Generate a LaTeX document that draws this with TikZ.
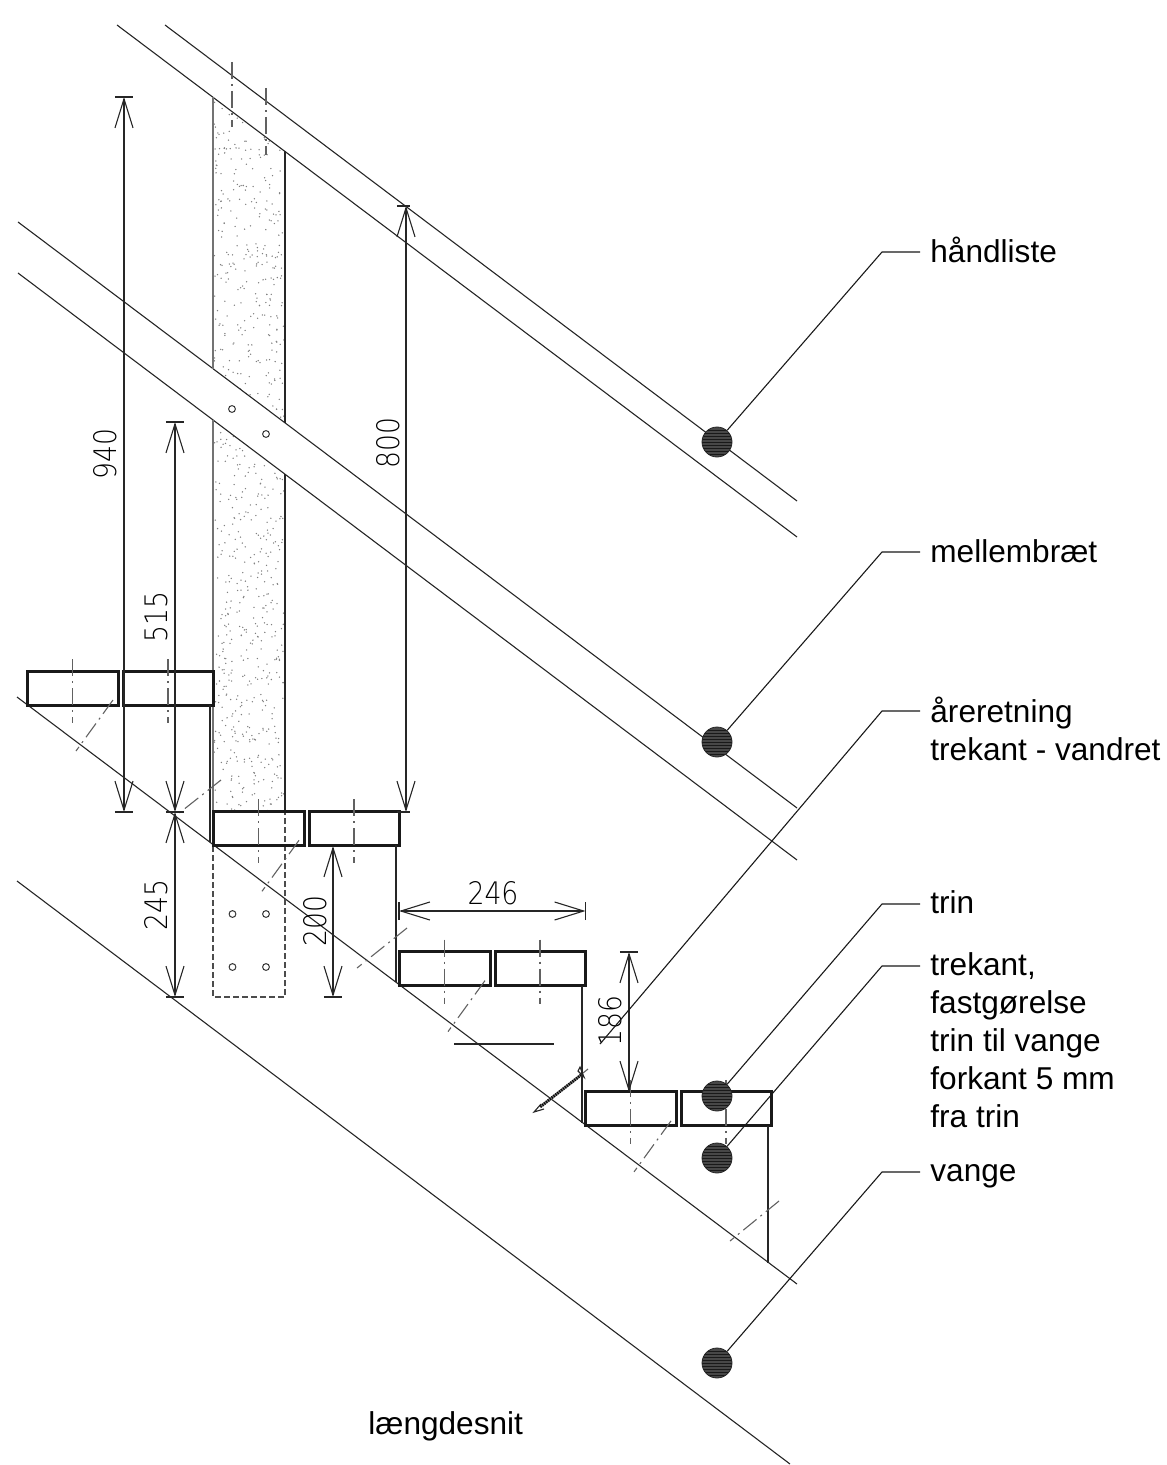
\documentclass[tikz,border=0pt]{standalone}
\usepackage{fontspec}
\setmainfont{Liberation Sans}
\newfontfamily\dimfont[UprightFont=* ExtraLight,FakeStretch=.86]{DejaVu Sans}
\usetikzlibrary{arrows.meta}

\tikzset{
	thinline/.style={line width=.55pt,black!85},
	treadbox/.style={line width=1.5pt,black!90},
	centerline/.style={line width=.55pt,black!62,dash pattern=on 8.5pt off 2.5pt on 1pt off 2.5pt},
	hiddenline/.style={line width=.55pt,black!70,dash pattern=on 3pt off 1.5pt},
	dimline/.style={line width=.55pt,black!85,{Straight Barb[length=14.5pt,width=9pt]}-{Straight Barb[length=14.5pt,width=9pt]}},
	dimtext/.style={font=\dimfont\fontsize{15.5}{20}\selectfont,black,inner sep=0pt},
	leader/.style={line width=.55pt,black!90},
	hole/.style={circle,draw=black!80,line width=.5pt,minimum size=3.4pt,inner sep=0pt},
	labeltext/.style={font=\fontsize{15.8}{19}\selectfont,align=left,inner sep=0pt,anchor=base west},
	dot/.style={circle,draw=black!85,line width=.4pt,fill=black!72,minimum size=15pt,inner sep=0pt,
		path picture={\foreach \k in {-6,-4.5,...,6}{
			\draw[black!90,line width=.35pt] ([yshift=\k pt]path picture bounding box.west) -- ([yshift=\k pt]path picture bounding box.east);}}},
}

\begin{document}
\begin{tikzpicture}[x=.5pt,y=-.5pt]
	
	\useasboundingbox (0,0) rectangle (1166,1465);
	
	% stipple in the post
	\begin{scope}
		\clip (213,97) -- (285,151) -- (285,423) -- (213,369) -- cycle
			(213,420) -- (285,474) -- (285,811) -- (213,811) -- cycle;
		\pgfmathsetseed{4711}
		\foreach \n in {1,...,800}{
			\pgfmathsetmacro{\sx}{214+70*rnd}
			\pgfmathsetmacro{\sy}{97+714*rnd}
			\fill[black!50] (\sx,\sy) circle (.38pt);
		}
	\end{scope}
	
	% rails
	\draw[thinline] (117,25) -- (797,537);
	\draw[thinline] (165,25) -- (797,501);
	\draw[thinline] (18,222) -- (797,808);
	\draw[thinline] (18,273) -- (797,860);
	\draw[thinline] (17,697) -- (797,1284);
	\draw[thinline] (17,881) -- (790,1464);
	
	% post
	\draw[line width=.8pt,black!55] (213,97) -- (213,369);
	\draw[line width=.8pt,black!55] (213,420) -- (213,846);
	\draw[thinline] (285,151) -- (285,423);
	\draw[thinline] (285,474) -- (285,811);
	\draw[hiddenline] (213,846) -- (213,997) -- (285,997) -- (285,811);
	\draw[centerline] (232,62) -- (232,127);
	\draw[centerline] (266,88) -- (266,155);
	
	% holes
	\node[hole] (holeA) at (232,409) {};
	\node[hole] (holeB) at (266,434) {};
	\node[hole] (holeC) at (232.5,914) {};
	\node[hole] (holeD) at (266,914) {};
	\node[hole] (holeE) at (232.5,967) {};
	\node[hole] (holeF) at (266,967) {};
	
	% steps
	\foreach \i in {0,...,3}{
		\begin{scope}[shift={(\i*186,\i*140.3)}]
			\draw[treadbox] (27,671) rectangle (118,705);
			\draw[treadbox] (123,671) rectangle (213,705);
			\draw[centerline] (72.5,659) -- (72.5,723);
			\draw[centerline] (168,659) -- (168,723);
			\draw[centerline] (113,700) -- (76,751);
			\draw[thinline] (210,705) -- (210,842);
		\end{scope}
	}
	\draw[centerline] (221,780) -- (178,814);
	\draw[centerline] (407,928) -- (357,968);
	\draw[centerline] (779,1201) -- (730,1241);
	\draw[centerline] (588,1069) -- (583,1073);
	\draw[thinline] (454,1044) -- (554,1044);
	
	% screw
	\draw[line width=1.4pt,black!55] (581,1075) -- (540,1107);
	\draw[line width=1.4pt,black,dash pattern=on .5pt off .7pt] (581,1075) -- (540,1107);
	\draw[thinline] (541,1104) -- (534,1112) -- (544,1109);
	\draw[thinline] (578,1071) -- (580,1067) -- (584,1077) -- cycle;
	
	% dimensions
	\coordinate (dimA) at (124,97);
	\coordinate (dimB) at (124,812);
	\coordinate (dimC) at (175,422);
	\coordinate (dimD) at (175,812);
	\coordinate (dimE) at (175,997);
	\coordinate (dimF) at (406,206);
	\coordinate (dimG) at (406,812);
	\coordinate (dimH) at (333,846);
	\coordinate (dimI) at (333,997);
	\coordinate (dimJ) at (399,911);
	\coordinate (dimK) at (585.5,911);
	\coordinate (dimL) at (629,952);
	\coordinate (dimM) at (629,1092);
	
	\draw[dimline] (dimA) -- (dimB);
	\draw[dimline] (dimC) -- (dimD);
	\draw[dimline] (dimD) -- (dimE);
	\draw[dimline] (dimF) -- (dimG);
	\draw[dimline] (dimH) -- (dimI);
	\draw[dimline] (dimJ) -- (dimK);
	\draw[dimline] (dimL) -- (dimM);
	
	\foreach \c in {dimA,dimB,dimC,dimD,dimE,dimI,dimL}{
		\draw[thinline] ([xshift=-4.6pt]\c) -- ([xshift=4.6pt]\c);
	}
	\foreach \c in {dimF,dimG}{
		\draw[thinline] ([xshift=-4.6pt]\c) -- ([xshift=2pt]\c);
	}
	\foreach \c in {dimJ,dimK}{
		\draw[thinline] ([yshift=-4.6pt]\c) -- ([yshift=4.6pt]\c);
	}
	
	\node[dimtext,rotate=90] (txtA) at (105,454) {940};
	\node[dimtext,rotate=90] (txtB) at (156,617) {515};
	\node[dimtext,rotate=90] (txtC) at (156,905) {245};
	\node[dimtext,rotate=90] (txtD) at (388,443) {800};
	\node[dimtext,rotate=90] (txtE) at (315,921) {200};
	\node[dimtext] (txtF) at (493,893) {246};
	\node[dimtext,rotate=90] (txtG) at (610,1021) {186};
	
	% round marks and leaders
	\node[dot] (dotA) at (717,442) {};
	\node[dot] (dotB) at (717,742) {};
	\node[dot] (dotC) at (717,1096) {};
	\node[dot] (dotD) at (717,1158) {};
	\node[dot] (dotE) at (717,1363) {};
	\coordinate (endF) at (600,1044);
	
	\coordinate (kneeA) at (882,252);
	\coordinate (kneeB) at (882,552);
	\coordinate (kneeC) at (882,904);
	\coordinate (kneeD) at (882,966);
	\coordinate (kneeE) at (882,1172);
	\coordinate (kneeF) at (882,711);
	
	\node[labeltext] (lblA) at (930,262.5) {håndliste};
	\node[labeltext] (lblB) at (930,562) {mellembræt};
	\node[labeltext,anchor=north west] (lblF) at (930,696.5) {åreretning\\trekant - vandret};
	\node[labeltext] (lblC) at (930,913) {trin};
	\node[labeltext,anchor=north west] (lblD) at (930,952) {trekant,\\fastgørelse\\trin til vange\\forkant 5 mm\\fra trin};
	\node[labeltext] (lblE) at (930,1181) {vange};
	\node[labeltext] (lblG) at (368,1434) {længdesnit};
	
	\draw[leader] (dotA) -- (kneeA) -- (920,252);
	\draw[leader] (dotB) -- (kneeB) -- (920,552);
	\draw[leader] (dotC) -- (kneeC) -- (920,904);
	\draw[leader] (dotD) -- (kneeD) -- (920,966);
	\draw[leader] (dotE) -- (kneeE) -- (920,1172);
	\draw[leader] (endF) -- (kneeF) -- (920,711);
	
\end{tikzpicture}
\end{document}
